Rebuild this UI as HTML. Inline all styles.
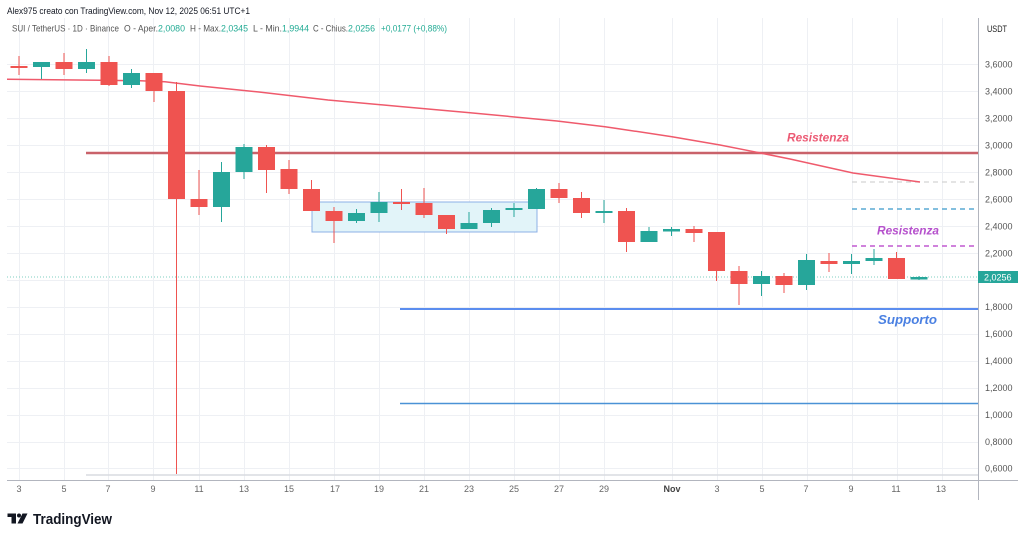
<!DOCTYPE html>
<html><head><meta charset="utf-8"><style>
html,body{margin:0;padding:0;background:#fff;}
svg{display:block;font-family:"Liberation Sans",Arial,sans-serif;}
</style></head><body>
<svg width="1024" height="538" viewBox="0 0 1024 538" xmlns="http://www.w3.org/2000/svg">
<rect width="1024" height="538" fill="#fff"/>
<!-- grid -->
<g stroke="#eef0f4" stroke-width="1">
<line x1="7" x2="978" y1="64.5" y2="64.5"/><line x1="7" x2="978" y1="91.5" y2="91.5"/><line x1="7" x2="978" y1="118.5" y2="118.5"/><line x1="7" x2="978" y1="145.5" y2="145.5"/><line x1="7" x2="978" y1="172.5" y2="172.5"/><line x1="7" x2="978" y1="199.5" y2="199.5"/><line x1="7" x2="978" y1="226.5" y2="226.5"/><line x1="7" x2="978" y1="253.5" y2="253.5"/><line x1="7" x2="978" y1="280.5" y2="280.5"/><line x1="7" x2="978" y1="307.5" y2="307.5"/><line x1="7" x2="978" y1="334.5" y2="334.5"/><line x1="7" x2="978" y1="361.5" y2="361.5"/><line x1="7" x2="978" y1="388.5" y2="388.5"/><line x1="7" x2="978" y1="415.5" y2="415.5"/><line x1="7" x2="978" y1="442.5" y2="442.5"/><line x1="7" x2="978" y1="468.5" y2="468.5"/>
<line y1="18" y2="480" x1="19.5" x2="19.5"/><line y1="18" y2="480" x1="64.5" x2="64.5"/><line y1="18" y2="480" x1="108.5" x2="108.5"/><line y1="18" y2="480" x1="153.5" x2="153.5"/><line y1="18" y2="480" x1="199.5" x2="199.5"/><line y1="18" y2="480" x1="244.5" x2="244.5"/><line y1="18" y2="480" x1="289.5" x2="289.5"/><line y1="18" y2="480" x1="334.5" x2="334.5"/><line y1="18" y2="480" x1="379.5" x2="379.5"/><line y1="18" y2="480" x1="424.5" x2="424.5"/><line y1="18" y2="480" x1="469.5" x2="469.5"/><line y1="18" y2="480" x1="514.5" x2="514.5"/><line y1="18" y2="480" x1="559.5" x2="559.5"/><line y1="18" y2="480" x1="604.5" x2="604.5"/><line y1="18" y2="480" x1="672.5" x2="672.5"/><line y1="18" y2="480" x1="717.5" x2="717.5"/><line y1="18" y2="480" x1="762.5" x2="762.5"/><line y1="18" y2="480" x1="807.5" x2="807.5"/><line y1="18" y2="480" x1="852.5" x2="852.5"/><line y1="18" y2="480" x1="897.5" x2="897.5"/><line y1="18" y2="480" x1="942.5" x2="942.5"/>
</g>
<!-- rectangle -->
<rect x="312" y="202" width="225" height="30" fill="#e2f4f9" stroke="#8cb0e6" stroke-width="1"/>
<!-- horizontal drawings -->
<line x1="86" x2="978" y1="475" y2="475" stroke="#d8dbe0" stroke-width="1.5"/>
<line x1="400" x2="978" y1="403.5" y2="403.5" stroke="#4a92d6" stroke-width="1.5"/>
<line x1="400" x2="978" y1="309" y2="309" stroke="#5b8def" stroke-width="2"/>
<line x1="86" x2="978" y1="153" y2="153" stroke="#c9626a" stroke-width="2.5"/>
<line x1="852" x2="978" y1="182" y2="182" stroke="#d3d3d3" stroke-width="1.2" stroke-dasharray="5,4"/>
<line x1="852" x2="978" y1="209" y2="209" stroke="#5aaad4" stroke-width="1.5" stroke-dasharray="5,4"/>
<line x1="852" x2="978" y1="246" y2="246" stroke="#c058d0" stroke-width="1.5" stroke-dasharray="5,4"/>
<!-- current price line -->
<line x1="7" x2="978" y1="277" y2="277" stroke="#7fcfc2" stroke-width="1" stroke-dasharray="1,2"/>
<!-- MA -->
<polyline fill="none" stroke="#ef5a6c" stroke-width="1.5" points="7,79.3 100,80.2 140,80.8 165,81.7 200,86 259,92 328,100 400,106.5 470,112.7 557,121 605,126.7 672,136.7 720,145 759,152.7 790,159 853,173 920,182"/>
<!-- candles -->
<g id="c">
<g stroke="#ef5350" fill="#ef5350">
<line x1="19" x2="19" y1="56" y2="75"/><rect x="10.5" y="66" width="17" height="2" stroke="none"/>
<line x1="64" x2="64" y1="53" y2="75"/><rect x="55.5" y="62" width="17" height="7" stroke="none"/>
<line x1="109" x2="109" y1="56" y2="86"/><rect x="100.5" y="62" width="17" height="23" stroke="none"/>
<line x1="154" x2="154" y1="73" y2="102"/><rect x="145.5" y="73" width="17" height="18" stroke="none"/>
<line x1="176.5" x2="176.5" y1="82" y2="474"/><rect x="168" y="91" width="17" height="108" stroke="none"/>
<line x1="199" x2="199" y1="170" y2="215"/><rect x="190.5" y="199" width="17" height="8" stroke="none"/>
<line x1="266.5" x2="266.5" y1="145" y2="193"/><rect x="258" y="147" width="17" height="23" stroke="none"/>
<line x1="289" x2="289" y1="160" y2="194"/><rect x="280.5" y="169" width="17" height="20" stroke="none"/>
<line x1="311.5" x2="311.5" y1="180" y2="211"/><rect x="303" y="189" width="17" height="22" stroke="none"/>
<line x1="334" x2="334" y1="207" y2="243"/><rect x="325.5" y="211" width="17" height="10" stroke="none"/>
<line x1="401.5" x2="401.5" y1="189" y2="210"/><rect x="393" y="202" width="17" height="2" stroke="none"/>
<line x1="424" x2="424" y1="188" y2="218"/><rect x="415.5" y="203" width="17" height="12" stroke="none"/>
<line x1="446.5" x2="446.5" y1="215" y2="234"/><rect x="438" y="215" width="17" height="14" stroke="none"/>
<line x1="559" x2="559" y1="183" y2="203"/><rect x="550.5" y="189" width="17" height="9" stroke="none"/>
<line x1="581.5" x2="581.5" y1="192" y2="218"/><rect x="573" y="198" width="17" height="15" stroke="none"/>
<line x1="626.5" x2="626.5" y1="208" y2="252"/><rect x="618" y="211" width="17" height="31" stroke="none"/>
<line x1="694" x2="694" y1="226" y2="242"/><rect x="685.5" y="229" width="17" height="4" stroke="none"/>
<line x1="716.5" x2="716.5" y1="232" y2="281"/><rect x="708" y="232" width="17" height="39" stroke="none"/>
<line x1="739" x2="739" y1="266" y2="305"/><rect x="730.5" y="271" width="17" height="13" stroke="none"/>
<line x1="784" x2="784" y1="273" y2="293"/><rect x="775.5" y="276" width="17" height="9" stroke="none"/>
<line x1="829" x2="829" y1="253" y2="272"/><rect x="820.5" y="261" width="17" height="3" stroke="none"/>
<line x1="896.5" x2="896.5" y1="252" y2="279"/><rect x="888" y="258" width="17" height="21" stroke="none"/>
</g>
<g stroke="#26a69a" fill="#26a69a">
<line x1="41.5" x2="41.5" y1="62" y2="79"/><rect x="33" y="62" width="17" height="5" stroke="none"/>
<line x1="86.5" x2="86.5" y1="49" y2="73"/><rect x="78" y="62" width="17" height="7" stroke="none"/>
<line x1="131.5" x2="131.5" y1="69" y2="88"/><rect x="123" y="73" width="17" height="12" stroke="none"/>
<line x1="221.5" x2="221.5" y1="162" y2="222"/><rect x="213" y="172" width="17" height="35" stroke="none"/>
<line x1="244" x2="244" y1="144" y2="179"/><rect x="235.5" y="147" width="17" height="25" stroke="none"/>
<line x1="356.5" x2="356.5" y1="209" y2="223"/><rect x="348" y="213" width="17" height="8" stroke="none"/>
<line x1="379" x2="379" y1="192" y2="222"/><rect x="370.5" y="202" width="17" height="11" stroke="none"/>
<line x1="469" x2="469" y1="212" y2="229"/><rect x="460.5" y="223" width="17" height="6" stroke="none"/>
<line x1="491.5" x2="491.5" y1="208" y2="227"/><rect x="483" y="210" width="17" height="13" stroke="none"/>
<line x1="514" x2="514" y1="203" y2="217"/><rect x="505.5" y="208" width="17" height="2" stroke="none"/>
<line x1="536.5" x2="536.5" y1="188" y2="209"/><rect x="528" y="189" width="17" height="20" stroke="none"/>
<line x1="604" x2="604" y1="200" y2="223"/><rect x="595.5" y="211" width="17" height="2" stroke="none"/>
<line x1="649" x2="649" y1="227" y2="242"/><rect x="640.5" y="231" width="17" height="11" stroke="none"/>
<line x1="671.5" x2="671.5" y1="227" y2="236"/><rect x="663" y="229" width="17" height="2.5" stroke="none"/>
<line x1="761.5" x2="761.5" y1="271" y2="296"/><rect x="753" y="276" width="17" height="8" stroke="none"/>
<line x1="806.5" x2="806.5" y1="254" y2="290"/><rect x="798" y="260" width="17" height="25" stroke="none"/>
<line x1="851.5" x2="851.5" y1="254" y2="274"/><rect x="843" y="261" width="17" height="3" stroke="none"/>
<line x1="874" x2="874" y1="249" y2="265"/><rect x="865.5" y="258" width="17" height="3" stroke="none"/>
<line x1="919" x2="919" y1="276" y2="280"/><rect x="910.5" y="277" width="17" height="2.5" stroke="none"/>
</g>
</g>
<!-- drawing labels -->
<g font-weight="bold" font-style="italic">
<text x="787" y="141.5" font-size="12" fill="#ec5a74" textLength="62" lengthAdjust="spacingAndGlyphs">Resistenza</text>
<text x="877" y="234.5" font-size="12" fill="#b550cc" textLength="62" lengthAdjust="spacingAndGlyphs">Resistenza</text>
<text x="878" y="324" font-size="13" fill="#4a80e2" textLength="59" lengthAdjust="spacingAndGlyphs">Supporto</text>
</g>
<!-- axes -->
<line x1="978.5" x2="978.5" y1="18" y2="500" stroke="#b2b5be" stroke-width="1"/>
<line x1="7" x2="1018" y1="480.5" y2="480.5" stroke="#b2b5be" stroke-width="1"/>
<g font-size="9" fill="#555" >
<text x="987" y="32" fill="#222" textLength="20" lengthAdjust="spacingAndGlyphs">USDT</text>
<text x="985" y="67.5">3,6000</text><text x="985" y="94.5">3,4000</text><text x="985" y="121.5">3,2000</text><text x="985" y="148.5">3,0000</text><text x="985" y="175.5">2,8000</text><text x="985" y="202.5">2,6000</text><text x="985" y="229.5">2,4000</text><text x="985" y="256.5">2,2000</text><text x="985" y="310">1,8000</text><text x="985" y="337">1,6000</text><text x="985" y="364">1,4000</text><text x="985" y="391">1,2000</text><text x="985" y="418">1,0000</text><text x="985" y="445">0,8000</text><text x="985" y="471.5">0,6000</text>
</g>
<rect x="978" y="271" width="40" height="12" fill="#26a69a"/>
<text x="984" y="280.5" font-size="9" fill="#fff">2,0256</text>
<g font-size="9" fill="#666" text-anchor="middle">
<text x="19" y="492">3</text><text x="64" y="492">5</text><text x="108" y="492">7</text><text x="153" y="492">9</text><text x="199" y="492">11</text><text x="244" y="492">13</text><text x="289" y="492">15</text><text x="335" y="492">17</text><text x="379" y="492">19</text><text x="424" y="492">21</text><text x="469" y="492">23</text><text x="514" y="492">25</text><text x="559" y="492">27</text><text x="604" y="492">29</text><text x="672" y="492" font-weight="bold" fill="#444">Nov</text><text x="717" y="492">3</text><text x="762" y="492">5</text><text x="806" y="492">7</text><text x="851" y="492">9</text><text x="896" y="492">11</text><text x="941" y="492">13</text>
</g>
<!-- header -->
<text x="7" y="14" font-size="9.5" fill="#131722" textLength="243" lengthAdjust="spacingAndGlyphs">Alex975 creato con TradingView.com, Nov 12, 2025 06:51 UTC+1</text>
<g font-size="9.5" fill="#555">
<text x="12" y="31.5" textLength="107" lengthAdjust="spacingAndGlyphs">SUI / TetherUS · 1D · Binance</text>
<text x="124" y="31.5" textLength="34" lengthAdjust="spacingAndGlyphs">O - Aper.</text>
<text x="158" y="31.5" fill="#22ab94" textLength="27" lengthAdjust="spacingAndGlyphs">2,0080</text>
<text x="190" y="31.5" textLength="31" lengthAdjust="spacingAndGlyphs">H - Max.</text>
<text x="221" y="31.5" fill="#22ab94" textLength="27" lengthAdjust="spacingAndGlyphs">2,0345</text>
<text x="253" y="31.5" textLength="29" lengthAdjust="spacingAndGlyphs">L - Min.</text>
<text x="282" y="31.5" fill="#22ab94" textLength="27" lengthAdjust="spacingAndGlyphs">1,9944</text>
<text x="313" y="31.5" textLength="35" lengthAdjust="spacingAndGlyphs">C - Chius.</text>
<text x="348" y="31.5" fill="#22ab94" textLength="27" lengthAdjust="spacingAndGlyphs">2,0256</text>
<text x="381" y="31.5" fill="#22ab94" textLength="66" lengthAdjust="spacingAndGlyphs">+0,0177 (+0,88%)</text>
</g>
<!-- logo -->
<g fill="#131722">
<rect x="7.5" y="513.5" width="8.5" height="3.5"/>
<rect x="11.5" y="513.5" width="4.5" height="10"/>
<circle cx="19" cy="515.5" r="2"/>
<polygon points="22.5,513.5 27.5,513.5 22.5,523.5 17.5,523.5"/>
<text x="33" y="524" font-size="15" font-weight="bold" textLength="79" lengthAdjust="spacingAndGlyphs">TradingView</text>
</g>
</svg>
</body></html>
